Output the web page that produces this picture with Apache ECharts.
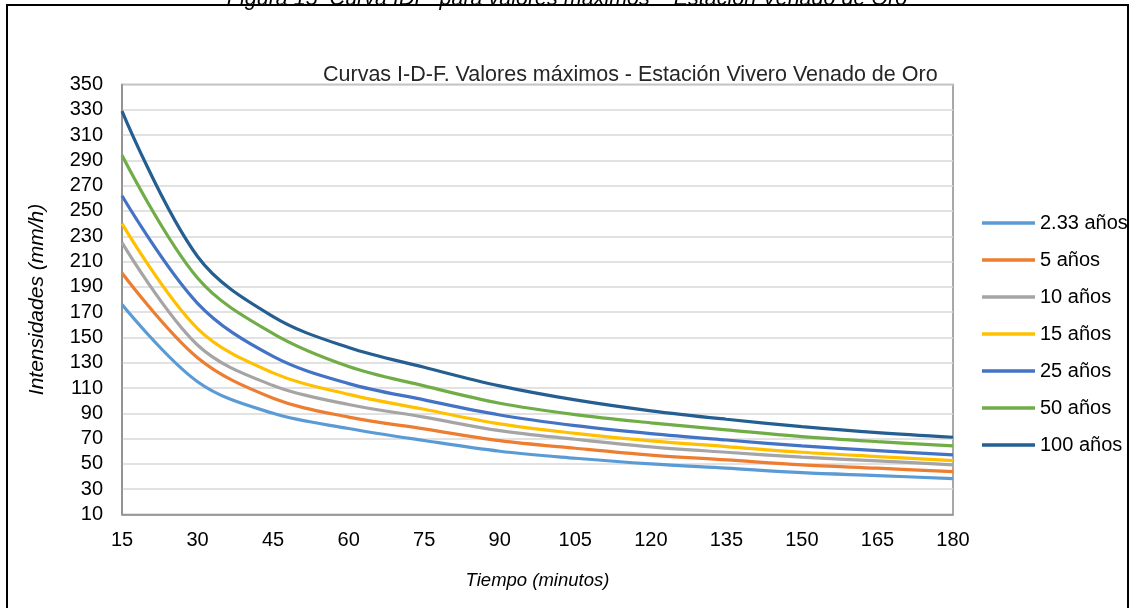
<!DOCTYPE html>
<html>
<head>
<meta charset="utf-8">
<script src="https://cdn.jsdelivr.net/npm/echarts@6/dist/echarts.min.js"></script>
<style>
html,body{margin:0;padding:0;background:#fff;}
#c{width:1134px;height:608px;}
</style>
</head>
<body>
<div id="c"></div>
<script>
const categories = ['15','30','45','60','75','90','105','120','135','150','165','180'];
const names = ['2.33 años','5 años','10 años','15 años','25 años','50 años','100 años'];
const s2_33 = [176, 115, 90, 78, 68.5, 60, 54.5, 50, 46.6, 43.1, 40.8, 38.4];
const s5    = [201, 134, 102, 87, 77.7, 68.4, 62.4, 57, 53.2, 49.2, 46.6, 43.9];
const s10   = [225, 144, 112, 97, 87, 76.3, 69.5, 63.5, 59.2, 55.3, 52.4, 49.2];
const s15   = [240, 157, 122, 105, 93.2, 81.6, 74.2, 68.2, 63.7, 59.2, 55.8, 52.6];
const s25   = [262, 177, 135, 113.5, 100.6, 88.7, 80.3, 74, 68.9, 64.2, 60.5, 57.1];
const s50   = [294, 197, 153, 127, 111.7, 98, 89, 82.5, 76.9, 71.6, 67.6, 64.2];
const s100  = [329, 214, 166.5, 142, 126.4, 111.7, 100.6, 92, 85.3, 79.5, 74.7, 71.1];
const allSeries = [s2_33, s5, s10, s15, s25, s50, s100];
const colors = ['#5B9BD5','#ED7D31','#A5A5A5','#FFC000','#4472C4','#70AD47','#255E91'];

const FONT = "'Liberation Sans', Arial, sans-serif";
const chart = echarts.init(document.getElementById('c'), null, {renderer:'canvas'});
chart.setOption({
  animation: false,
  backgroundColor: '#fff',
  color: colors,
  textStyle: {fontFamily: FONT},
  title: {
    text: 'Curvas I-D-F. Valores máximos - Estación Vivero Venado de Oro',
    left: 318,
    top: 59,
    textStyle: {fontFamily: FONT, fontSize: 21.5, fontWeight: 'normal', color: '#262626'}
  },
  graphic: [
    {type:'text', left:'center', top:-12, z:10,
     style:{text:'Figura 15  Curva IDF  para valores máximos – Estación Venado de Oro', fontFamily:FONT, fontSize:21.5, fontStyle:'italic', fill:'#000'}},
    {type:'rect', shape:{x:7, y:5, width:1121, height:620}, z:20, silent:true,
     style:{fill:'none', stroke:'#000', lineWidth:2}}
  ],
  legend: {
    orient: 'vertical',
    left: 977,
    top: 208,
    icon: 'rect',
    itemWidth: 53,
    itemHeight: 3.5,
    itemGap: 17,
    textStyle: {fontFamily: FONT, fontSize: 20, color: '#000'},
    data: names
  },
  grid: {left: 122, right: 181, top: 84.5, bottom: 93.5, show: true, borderColor: '#8c8c8c', borderWidth: 1.5, containLabel: false},
  xAxis: {
    type: 'category',
    data: categories,
    boundaryGap: false,
    name: 'Tiempo (minutos)',
    nameLocation: 'middle',
    nameGap: 57,
    nameTextStyle: {fontFamily: FONT, fontSize: 18.5, fontStyle: 'italic', color: '#000'},
    axisLine: {lineStyle: {color: '#8c8c8c', width: 1.5}},
    axisTick: {show: false},
    axisLabel: {fontFamily: FONT, fontSize: 20, color: '#000', margin: 16},
    splitLine: {show: false}
  },
  yAxis: {
    type: 'value',
    min: 10,
    max: 350,
    interval: 20,
    name: 'Intensidades (mm/h)',
    nameLocation: 'middle',
    nameGap: 74,
    nameTextStyle: {fontFamily: FONT, fontSize: 21, fontStyle: 'italic', color: '#000'},
    axisLine: {show: true, lineStyle: {color: '#8c8c8c', width: 1.5}},
    axisTick: {show: false},
    axisLabel: {fontFamily: FONT, fontSize: 20, color: '#000', margin: 19},
    splitLine: {show: true, lineStyle: {color: '#d9d9d9', width: 1.5}}
  },
  series: allSeries.map((d, i) => ({
    name: names[i],
    type: 'line',
    data: d,
    smooth: 0.35,
    symbol: 'none',
    lineStyle: {width: 3.2, color: colors[i]},
    itemStyle: {color: colors[i]}
  }))
});
</script>
</body>
</html>
